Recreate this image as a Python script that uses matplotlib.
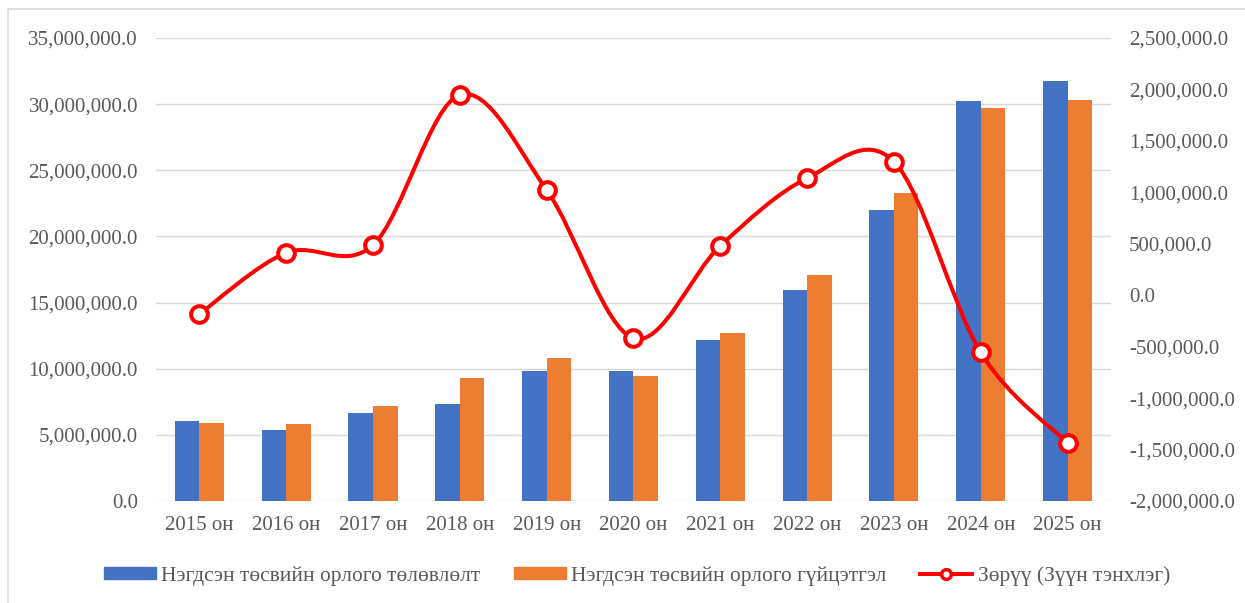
import numpy as np
import matplotlib.pyplot as plt
import matplotlib.patches as patches
from matplotlib.path import Path
from matplotlib.lines import Line2D
from matplotlib.ticker import FuncFormatter, MultipleLocator

plt.rcParams['font.family'] = ['Liberation Serif', 'DejaVu Serif']

# Өгөгдөл
years = ['2015 он', '2016 он', '2017 он', '2018 он', '2019 он', '2020 он',
         '2021 он', '2022 он', '2023 он', '2024 он', '2025 он']
plan = [6050000, 5370000, 6660000, 7340000, 9800000, 9800000,
        12180000, 15960000, 21960000, 30200000, 31770000]
actual = [5900000, 5790000, 7150000, 9270000, 10820000, 9420000,
          12670000, 17100000, 23270000, 29670000, 30310000]
diff = [-183000, 413000, 488000, 1948000, 1023000, -419000,
        479000, 1137000, 1299000, -556000, -1435000]

label_plan = 'Нэгдсэн төсвийн орлого төлөвлөлт'
label_actual = 'Нэгдсэн төсвийн орлого гүйцэтгэл'
label_diff = 'Зөрүү (Зүүн тэнхлэг)'

BLUE = '#4472C4'
ORANGE = '#ED7D31'
RED = '#FF0000'
GRID = '#D9D9D9'
TXT = '#595959'


def smooth_path(xs, ys):
    # Excel маягийн зөөлөн муруй (Catmull-Rom -> Bezier)
    pts = np.column_stack([xs, ys]).astype(float)
    n = len(pts)
    verts = [pts[0]]
    codes = [Path.MOVETO]
    for i in range(n - 1):
        p0 = pts[i - 1] if i > 0 else pts[i]
        p1 = pts[i]
        p2 = pts[i + 1]
        p3 = pts[i + 2] if i + 2 < n else pts[i + 1]
        c1 = p1 + (p2 - p0) / 6.0
        c2 = p2 - (p3 - p1) / 6.0
        verts += [c1, c2, p2]
        codes += [Path.CURVE4] * 3
    return Path(verts, codes)


fig = plt.figure(figsize=(12.45, 6.03), dpi=100)
ax = fig.add_axes([0.1253, 0.1692, 0.767, 0.7678])

# хүрээ
fig.patches.append(patches.Rectangle((8 / 1245, -0.1), 1.2, 1 - 9 / 603 + 0.1,
                                     transform=fig.transFigure, fill=False,
                                     edgecolor=GRID, linewidth=1.2))

x = np.arange(len(years))
w = 0.283
ax.bar(x - w / 2, plan, w, color=BLUE, label=label_plan, zorder=2)
ax.bar(x + w / 2, actual, w, color=ORANGE, label=label_actual, zorder=2)

ax.set_xlim(-0.5, len(years) - 0.5)
ax.set_ylim(0, 35000000)
ax.yaxis.set_major_locator(MultipleLocator(5000000))
ax.yaxis.set_major_formatter(FuncFormatter(lambda v, p: f'{v:,.1f}'))
ax.set_xticks(x)
ax.set_xticklabels(years)
ax.grid(axis='y', color=GRID, linewidth=1.0, zorder=0)
ax.set_axisbelow(True)
for s in ax.spines.values():
    s.set_visible(False)
ax.tick_params(axis='both', length=0, labelsize=15, colors=TXT)
ax.tick_params(axis='y', pad=13)
ax.tick_params(axis='x', pad=11)

ax2 = ax.twinx()
ax2.set_ylim(-2000000, 2500000)
ax2.yaxis.set_major_locator(MultipleLocator(500000))
ax2.yaxis.set_major_formatter(FuncFormatter(lambda v, p: f'{v:,.1f}'))
for s in ax2.spines.values():
    s.set_visible(False)
ax2.tick_params(axis='y', length=0, labelsize=15, colors=TXT, pad=13)

ax2.add_patch(patches.PathPatch(smooth_path(x, diff), facecolor='none',
                                edgecolor=RED, linewidth=2.9,
                                capstyle='round', joinstyle='round', zorder=3))
ax2.plot(x, diff, linestyle='none', marker='o', markersize=12,
         markerfacecolor='white', markeredgecolor=RED, markeredgewidth=2.9,
         zorder=4)

handles = [patches.Patch(color=BLUE), patches.Patch(color=ORANGE),
           Line2D([], [], color=RED, linewidth=2.9, marker='o', markersize=7,
                  markerfacecolor='white', markeredgecolor=RED,
                  markeredgewidth=2.5)]
fig.legend(handles, [label_plan, label_actual, label_diff],
           loc='center', bbox_to_anchor=(0.5115, 1 - 576 / 603), ncol=3,
           frameon=False, fontsize=15.4, labelcolor=TXT, handlelength=2.45,
           handleheight=0.5, handletextpad=0.25, columnspacing=1.55)

plt.savefig('out.png', dpi=100)
